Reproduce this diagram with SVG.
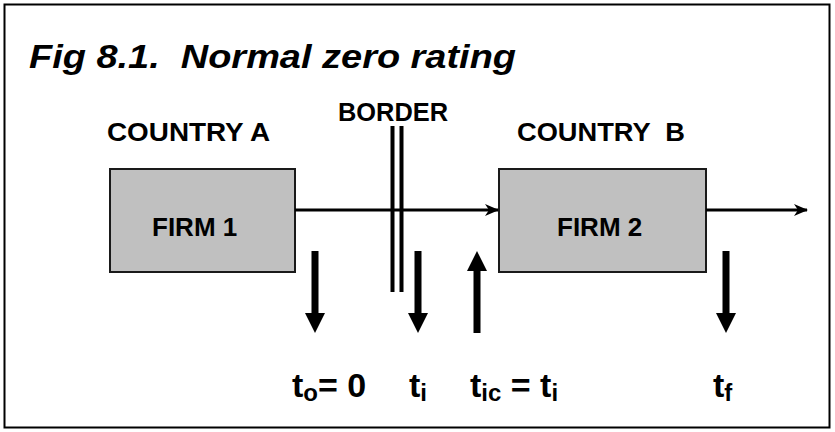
<svg xmlns="http://www.w3.org/2000/svg" width="835" height="432" viewBox="0 0 835 432">
<defs>
<style>
text{font-family:"Liberation Sans",Arial,sans-serif;font-weight:bold;fill:#000}
.title{font-size:34px;font-style:italic}
.lab{font-size:26px}
.firm{font-size:26px}
.t{font-size:34px}
.sub{font-size:24px}
.box{fill:#c0c0c0;stroke:#1a1a1a;stroke-width:2}
.flow{stroke:#000;stroke-width:3;fill:none}
.bline{stroke:#000;stroke-width:4}
.big{fill:#000}
</style>
<marker id="ah" viewBox="0 0 14 12" refX="13" refY="6" markerWidth="14" markerHeight="12" markerUnits="userSpaceOnUse" orient="auto">
<path d="M0,0 L14,6 L0,12 L4,6 z" fill="#000"/>
</marker>
</defs>
<rect x="4.5" y="4.5" width="825" height="423" fill="#fff" stroke="#000" stroke-width="2"/>
<text class="title" x="29" y="68" textLength="487" lengthAdjust="spacingAndGlyphs" xml:space="preserve">Fig 8.1.  Normal zero rating</text>
<text class="lab" x="107" y="141" textLength="163" lengthAdjust="spacingAndGlyphs">COUNTRY A</text>
<text class="lab" x="338" y="121" textLength="110" lengthAdjust="spacingAndGlyphs">BORDER</text>
<text class="lab" x="517" y="141" textLength="168" lengthAdjust="spacingAndGlyphs" xml:space="preserve">COUNTRY  B</text>
<g id="firm1">
<rect class="box" x="110" y="169" width="185" height="103"/>
<text class="firm" x="152" y="236">FIRM 1</text>
</g>
<g id="firm2">
<rect class="box" x="499" y="169" width="207" height="103"/>
<text class="firm" x="557" y="236">FIRM 2</text>
</g>
<g id="border">
<line class="bline" x1="392.5" y1="126" x2="392.5" y2="292"/>
<line class="bline" x1="401.5" y1="126" x2="401.5" y2="292"/>
</g>
<g id="connectors">
<line class="flow" x1="295" y1="210" x2="498" y2="210" marker-end="url(#ah)"/>
<line class="flow" x1="706" y1="210" x2="807" y2="210" marker-end="url(#ah)"/>
<path class="big" d="M311.5,251 h7 v62 h6.5 l-10,20 l-10,-20 h6.5 z"/>
<path class="big" d="M414.5,251 h7 v62 h6.5 l-10,20 l-10,-20 h6.5 z"/>
<path class="big" d="M473.5,333 h7 v-62 h6.5 l-10,-20 l-10,20 h6.5 z"/>
<path class="big" d="M722.5,251 h7 v62 h6.5 l-10,20 l-10,-20 h6.5 z"/>
</g>
<g id="labels">
<text class="t" x="292" y="397">t<tspan class="sub" dy="4">o</tspan><tspan dy="-4">= 0</tspan></text>
<text class="t" x="409" y="397">t<tspan class="sub" dy="4">i</tspan></text>
<text class="t" x="470" y="397" xml:space="preserve">t<tspan class="sub" dy="4">ic</tspan><tspan dy="-4"> = t</tspan><tspan class="sub" dy="4">i</tspan></text>
<text class="t" x="713" y="397">t<tspan class="sub" dy="4">f</tspan></text>
</g>
</svg>
